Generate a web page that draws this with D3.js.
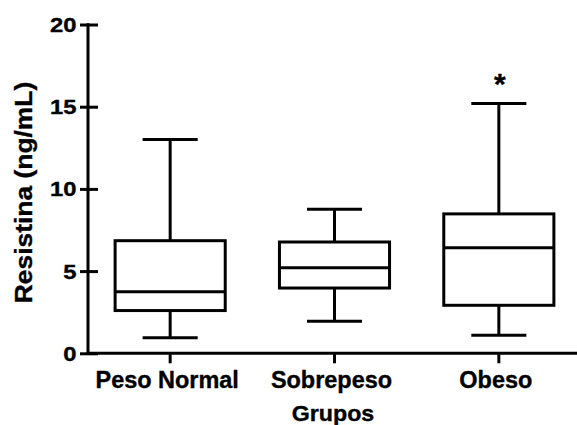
<!DOCTYPE html>
<html>
<head>
<meta charset="utf-8">
<script src="https://cdn.jsdelivr.net/npm/d3@7"></script>
<style>
  html, body { margin: 0; padding: 0; background: #fff; }
  svg { display: block; }
  text { font-family: "Liberation Sans", Arial, Helvetica, sans-serif; font-weight: bold; fill: #000; stroke: #000; stroke-width: 0.35px; }
</style>
</head>
<body>
<svg id="chart" width="577" height="425"></svg>
<script>
const categories = ["Peso Normal", "Sobrepeso", "Obeso"];
const whiskerLow  = [0.95, 1.95, 1.1];
const q1          = [2.6, 3.97, 2.92];
const median      = [3.75, 5.2, 6.42];
const q3          = [6.85, 6.77, 8.48];
const whiskerHigh = [13.0, 8.76, 15.2];
const yTicks = [0, 5, 10, 15, 20];
const significance = ["", "", "*"];
const yTitle = "Resistina (ng/mL)";
const xTitle = "Grupos";

const svg = d3.select("#chart");
svg.append("rect").attr("width", 577).attr("height", 425).attr("fill", "#fff");

const axisX = 88, axisY = 353.3;
const y = d3.scaleLinear().domain([0, 20]).range([axisY, 24.5]);
const x = d3.scaleBand().domain(categories).range([axisX, 581]).paddingInner(0).paddingOuter(0);
const boxW = x.bandwidth() * 0.67;
const capW = boxW / 2;
const sw = 3;

const data = categories.map((c, i) => ({
  c, lo: whiskerLow[i], q1: q1[i], med: median[i], q3: q3[i], hi: whiskerHigh[i], sig: significance[i]
}));

// Y axis
const yAxis = d3.axisLeft(y).tickValues(yTicks).tickSize(0).tickFormat("");
const gy = svg.append("g").attr("transform", `translate(${axisX},0)`).call(yAxis);
gy.select(".domain").remove();
gy.append("line").attr("x1", 0).attr("x2", 0).attr("y1", y(20) - 1.2).attr("y2", axisY + 1.5)
  .attr("stroke", "#000").attr("stroke-width", sw);
gy.selectAll(".tick").each(function(d) {
  const t = d3.select(this);
  t.append("line").attr("x1", -8).attr("x2", 10).attr("y1", 0).attr("y2", 0)
    .attr("stroke", "#000").attr("stroke-width", sw);
  t.append("g").attr("transform", "translate(-11.5,0) scale(1.22,1)")
    .append("text").attr("text-anchor", "end").attr("dy", "0.36em")
    .style("font-size", "19.5px").text(d);
});

// X axis
const xAxis = d3.axisBottom(x).tickSize(0).tickFormat("");
const gx = svg.append("g").attr("transform", `translate(0,${axisY})`).call(xAxis);
gx.select(".domain").remove();
gx.append("line").attr("x1", axisX - 1.5).attr("x2", 577).attr("y1", 0).attr("y2", 0)
  .attr("stroke", "#000").attr("stroke-width", sw);
gx.selectAll(".tick").each(function(d) {
  const t = d3.select(this);
  t.append("line").attr("x1", 0).attr("x2", 0).attr("y1", 0).attr("y2", 10)
    .attr("stroke", "#000").attr("stroke-width", sw);
  t.append("g").attr("transform", "translate(-3,35) scale(1.02,1)")
    .append("text").attr("text-anchor", "middle")
    .style("font-size", "23px").text(d);
});

// Boxes
const g = svg.append("g").attr("stroke", "#000").attr("stroke-width", sw).attr("fill", "none");
data.forEach(d => {
  const cx = x(d.c) + x.bandwidth() / 2;
  g.append("line").attr("x1", cx).attr("x2", cx).attr("y1", y(d.hi)).attr("y2", y(d.q3));
  g.append("line").attr("x1", cx).attr("x2", cx).attr("y1", y(d.q1)).attr("y2", y(d.lo));
  g.append("line").attr("x1", cx - capW / 2).attr("x2", cx + capW / 2).attr("y1", y(d.hi)).attr("y2", y(d.hi));
  g.append("line").attr("x1", cx - capW / 2).attr("x2", cx + capW / 2).attr("y1", y(d.lo)).attr("y2", y(d.lo));
  g.append("rect").attr("x", cx - boxW / 2).attr("width", boxW)
    .attr("y", y(d.q3)).attr("height", y(d.q1) - y(d.q3));
  g.append("line").attr("x1", cx - boxW / 2).attr("x2", cx + boxW / 2).attr("y1", y(d.med)).attr("y2", y(d.med));
  if (d.sig) {
    svg.append("text").attr("x", cx + 1).attr("y", y(d.hi) - 9).attr("text-anchor", "middle")
      .style("font-size", "30px").text(d.sig);
  }
});

// Titles
svg.append("g").attr("transform", "translate(333,421) scale(1.08,1)")
  .append("text").attr("text-anchor", "middle").style("font-size", "21.5px").text(xTitle);
svg.append("g").attr("transform", "translate(32,192.5) rotate(-90) scale(1.1,1)")
  .append("text").attr("text-anchor", "middle").style("font-size", "24px").text(yTitle);
</script>
</body>
</html>
